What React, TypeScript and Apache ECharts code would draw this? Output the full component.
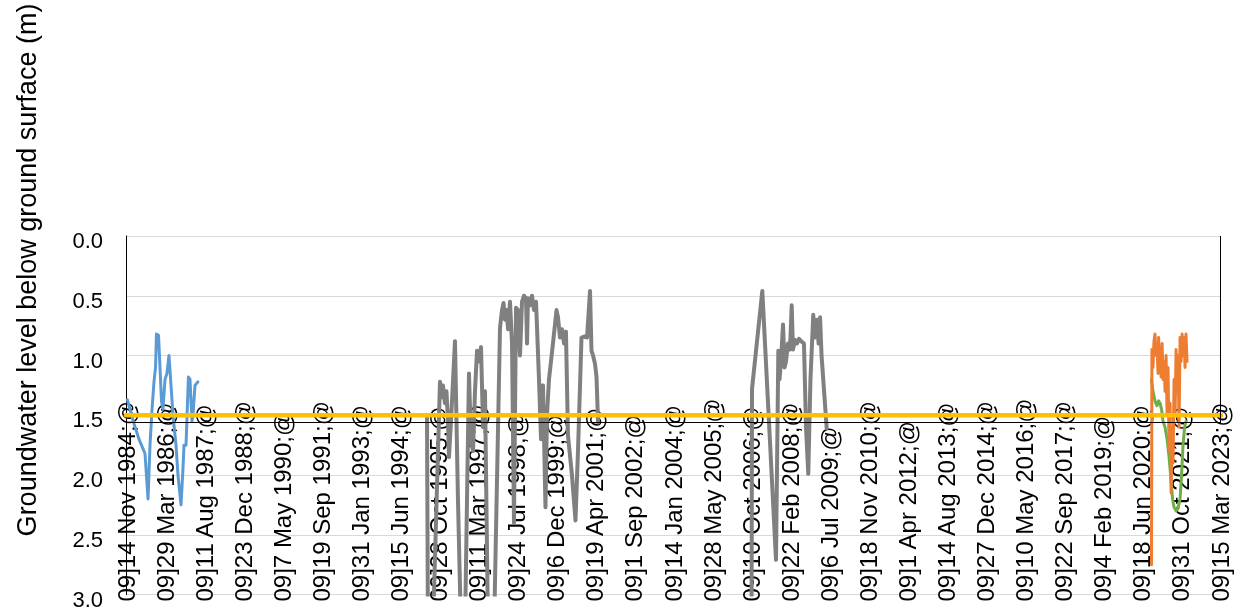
import React, { useEffect, useRef } from "react";
import * as echarts from "echarts";

const BASE_DATE = "1984-11-14";
const LAST_TICK_DATE = "2023-03-15";
const TICK_DAYS = 500;
const Y_MIN = 0;
const Y_MAX = 3;
const Y_STEP = 0.5;
const AXIS_CROSS = 1.565;
const MONTHS = ["Jan", "Feb", "Mar", "Apr", "May", "Jun", "Jul", "Aug", "Sep", "Oct", "Nov", "Dec"];
const Y_TITLE = "Groundwater level below ground surface (m)";

const blueSeries: [string, number][] = [
  ["1984-12-01", 1.37], ["1985-01-04", 1.45], ["1985-02-24", 1.57], ["1985-04-29", 1.7],
  ["1985-07-15", 1.82], ["1985-08-23", 2.2], ["1985-09-17", 1.75], ["1985-10-13", 1.45],
  ["1985-11-07", 1.22], ["1985-11-27", 1.1], ["1985-12-09", 0.82], ["1986-01-04", 0.83],
  ["1986-01-23", 1.1], ["1986-02-11", 1.38], ["1986-03-02", 1.45], ["1986-03-28", 1.2],
  ["1986-04-22", 1.15], ["1986-05-18", 1.0], ["1986-06-13", 1.25], ["1986-07-08", 1.5],
  ["1986-08-16", 1.75], ["1986-09-10", 2.0], ["1986-10-19", 2.25], ["1986-11-13", 1.95],
  ["1986-11-26", 1.75], ["1986-12-22", 1.75], ["1987-01-10", 1.4], ["1987-01-22", 1.18],
  ["1987-02-11", 1.2], ["1987-03-08", 1.55], ["1987-03-21", 1.5], ["1987-04-16", 1.25],
  ["1987-05-24", 1.22],
];

const grayPeriod1: [string, number][] = [
  ["1995-06-02", 1.5], ["1995-06-14", 3.3], ["1995-08-17", 3.3], ["1995-11-15", 1.22],
  ["1995-12-11", 1.35], ["1995-12-23", 1.25], ["1996-01-18", 1.4], ["1996-02-06", 1.3],
  ["1996-02-25", 1.55], ["1996-03-09", 1.85], ["1996-04-04", 1.55], ["1996-05-25", 0.88],
  ["1996-07-02", 2.2], ["1996-08-10", 3.3], ["1996-09-30", 3.3], ["1996-11-20", 1.15],
  ["1996-12-15", 1.7], ["1997-01-11", 1.8], ["1997-02-05", 1.3], ["1997-03-03", 0.96],
  ["1997-03-29", 1.05], ["1997-04-23", 0.93], ["1997-05-19", 1.6], ["1997-06-13", 1.3],
  ["1997-07-22", 3.3], ["1997-10-07", 3.3], ["1997-12-22", 0.77], ["1998-01-17", 0.62],
  ["1998-02-05", 0.56], ["1998-02-24", 0.7], ["1998-03-15", 0.62], ["1998-04-04", 0.78],
  ["1998-04-29", 0.55], ["1998-05-25", 0.9], ["1998-06-19", 2.4], ["1998-07-15", 0.6],
  ["1998-08-09", 0.62], ["1998-09-04", 1.0], ["1998-09-30", 0.55], ["1998-10-25", 0.5],
  ["1998-11-20", 0.52], ["1998-12-03", 0.9], ["1998-12-15", 0.52], ["1999-01-10", 0.58],
  ["1999-02-04", 0.5], ["1999-03-02", 0.62], ["1999-03-28", 0.55], ["1999-04-09", 0.75],
  ["1999-05-05", 1.2], ["1999-05-31", 1.7], ["1999-06-25", 1.25], ["1999-07-27", 2.27],
  ["1999-08-15", 1.5], ["1999-09-10", 1.2], ["1999-10-31", 0.9], ["1999-12-15", 0.62],
  ["2000-01-03", 0.68], ["2000-01-29", 0.85], ["2000-02-23", 0.78], ["2000-03-20", 0.9],
  ["2000-04-14", 0.8], ["2000-05-10", 1.67], ["2000-06-30", 2.0], ["2000-08-14", 2.38],
  ["2000-09-15", 1.8], ["2000-10-30", 0.85], ["2000-12-13", 0.84], ["2001-01-09", 0.85],
  ["2001-02-16", 0.46], ["2001-03-07", 0.96], ["2001-03-27", 1.0], ["2001-04-21", 1.07],
  ["2001-05-10", 1.18], ["2001-05-30", 1.56],
];

const grayPeriod2: [string, number][] = [
  ["2006-10-15", 3.3], ["2006-10-21", 1.28], ["2007-03-02", 0.46], ["2007-08-24", 2.71],
  ["2007-09-23", 0.96], ["2007-10-08", 1.2], ["2007-10-27", 1.05], ["2007-11-22", 0.74],
  ["2007-12-11", 1.1], ["2007-12-30", 1.05], ["2008-01-24", 0.9], ["2008-02-19", 0.95],
  ["2008-03-12", 0.58], ["2008-03-28", 0.95], ["2008-04-23", 0.87], ["2008-05-19", 0.9],
  ["2008-06-13", 0.86], ["2008-07-09", 0.88], ["2008-08-16", 0.9], ["2008-09-11", 1.6],
  ["2008-10-10", 1.99], ["2008-11-07", 1.2], ["2008-12-13", 0.66], ["2009-01-05", 0.85],
  ["2009-01-30", 0.7], ["2009-02-19", 0.9], ["2009-03-10", 0.68], ["2009-03-29", 1.0],
  ["2009-06-03", 1.61],
];

const orangeSeries: [string, number][] = [
  ["2020-10-19", 2.75], ["2020-10-25", 0.95], ["2020-11-07", 1.1], ["2020-11-20", 0.88],
  ["2020-12-03", 0.82], ["2020-12-16", 1.0], ["2020-12-28", 0.9], ["2021-01-11", 1.15],
  ["2021-01-18", 0.85], ["2021-01-31", 1.05], ["2021-02-06", 0.95], ["2021-02-19", 1.18],
  ["2021-03-04", 0.9], ["2021-03-16", 1.2], ["2021-03-29", 1.05], ["2021-04-11", 1.3],
  ["2021-04-24", 1.0], ["2021-05-07", 1.5], ["2021-05-19", 1.1], ["2021-06-01", 1.8],
  ["2021-06-14", 1.4], ["2021-06-27", 2.15], ["2021-07-10", 1.6], ["2021-07-22", 1.9],
  ["2021-08-04", 1.2], ["2021-08-17", 1.5], ["2021-08-30", 0.95], ["2021-09-12", 1.3],
  ["2021-09-24", 1.0], ["2021-10-07", 1.6], ["2021-10-20", 0.85], ["2021-11-02", 1.05],
  ["2021-11-15", 0.82], ["2021-11-27", 1.0], ["2021-12-10", 0.85], ["2021-12-23", 1.1],
  ["2022-01-04", 0.82], ["2022-01-17", 1.05],
];

const greenSeries: [string, number][] = [
  ["2020-10-19", 1.2], ["2020-11-07", 1.3], ["2020-12-03", 1.38], ["2020-12-28", 1.42],
  ["2021-01-18", 1.38], ["2021-02-06", 1.4], ["2021-02-25", 1.45], ["2021-03-16", 1.55],
  ["2021-04-11", 1.6], ["2021-05-07", 1.7], ["2021-06-01", 1.85], ["2021-06-27", 2.05],
  ["2021-07-16", 2.2], ["2021-08-04", 2.27], ["2021-08-30", 2.3], ["2021-09-24", 2.28],
  ["2021-10-20", 2.2], ["2021-11-08", 2.0], ["2021-11-27", 1.75], ["2021-12-17", 1.6],
  ["2022-01-04", 1.55],
];

const thresholdSeries: [string, number][] = [
  ["1984-11-14", 1.5], ["2024-06-01", 1.5],
];

const FONT = "'Liberation Sans', Arial, Helvetica, sans-serif";

function toUTC(s: string): number {
  const [y, m, d] = s.split("-").map(Number);
  return Date.UTC(y, m - 1, d);
}
const BASE_MS = toUTC(BASE_DATE);
const DAY_MS = 86400000;
function toDays(s: string): number {
  return Math.round((toUTC(s) - BASE_MS) / DAY_MS);
}
function conv(arr: [string, number][]) {
  return arr.map(([d, v]) => [toDays(d), v]);
}
function fmtDate(v: number): string {
  const dt = new Date(BASE_MS + Math.round(v) * DAY_MS);
  return `09]${dt.getUTCDate()} ${MONTHS[dt.getUTCMonth()]} ${dt.getUTCFullYear()};@`;
}

export default function App() {
  const ref = useRef<HTMLDivElement>(null);
  useEffect(() => {
    if (!ref.current) return;
    const chart = echarts.init(ref.current, undefined, { renderer: "svg" });
    const xMax = toDays(LAST_TICK_DATE);
    const lineSeries = (name: string, data: [string, number][], color: string, width: number, extra: any = {}) => ({
      name,
      type: "line",
      data: conv(data),
      showSymbol: false,
      symbol: "none",
      lineStyle: { color, width, join: "round", cap: "round" },
      itemStyle: { color },
      silent: true,
      ...extra,
    });
    chart.setOption({
      animation: false,
      grid: { left: 126, right: 25, top: 236, bottom: 6, containLabel: false },
      xAxis: {
        type: "value",
        min: 0,
        max: xMax,
        interval: TICK_DAYS,
        axisLine: { show: false },
        axisTick: { show: false },
        splitLine: { show: false },
        axisLabel: {
          inside: true,
          rotate: 90,
          margin: -7,
          fontSize: 24,
          color: "#000",
          fontFamily: FONT,
          formatter: (v: number) => fmtDate(v),
        },
      },
      yAxis: {
        type: "value",
        inverse: true,
        min: Y_MIN,
        max: Y_MAX,
        interval: Y_STEP,
        axisLine: { show: true, lineStyle: { color: "#000", width: 1 } },
        axisTick: { show: false },
        axisLabel: {
          color: "#000",
          margin: 23,
          formatter: (v: number) => `{t|${v.toFixed(1)}}`,
          rich: {
            t: {
              fontSize: 22,
              color: "#000",
              fontFamily: FONT,
              padding: [9, 0, 0, 0],
            },
          },
        },
        splitLine: { show: true, lineStyle: { color: "#d9d9d9", width: 1 } },
      },
      graphic: [
        {
          type: "text",
          x: 27,
          y: 270,
          rotation: Math.PI / 2,
          style: {
            text: Y_TITLE,
            fontSize: 27,
            fontFamily: FONT,
            fill: "#000",
            align: "center",
            verticalAlign: "middle",
          },
        },
      ],
      series: [
        lineSeries("Axis", [], "#000", 1, {
          markLine: {
            silent: true,
            symbol: ["none", "none"],
            label: { show: false },
            lineStyle: { color: "#000", width: 1, type: "solid" },
            data: [
              { yAxis: AXIS_CROSS },
              [{ coord: [xMax, Y_MIN] }, { coord: [xMax, AXIS_CROSS] }],
            ],
          },
        }),
        lineSeries("Bore A", blueSeries, "#5B9BD5", 3),
        lineSeries("Bore B 1995", grayPeriod1, "#808080", 4),
        lineSeries("Bore B 2006", grayPeriod2, "#808080", 4),
        lineSeries("Bore D", greenSeries, "#70AD47", 3),
        lineSeries("Bore C", orangeSeries, "#ED7D31", 3),
        lineSeries("Threshold", thresholdSeries, "#FFC000", 4.5, { clip: false }),
      ],
    });
    return () => chart.dispose();
  }, []);
  return <div ref={ref} style={{ position: "fixed", left: 0, top: 0, width: 1245, height: 610 }} />;
}
